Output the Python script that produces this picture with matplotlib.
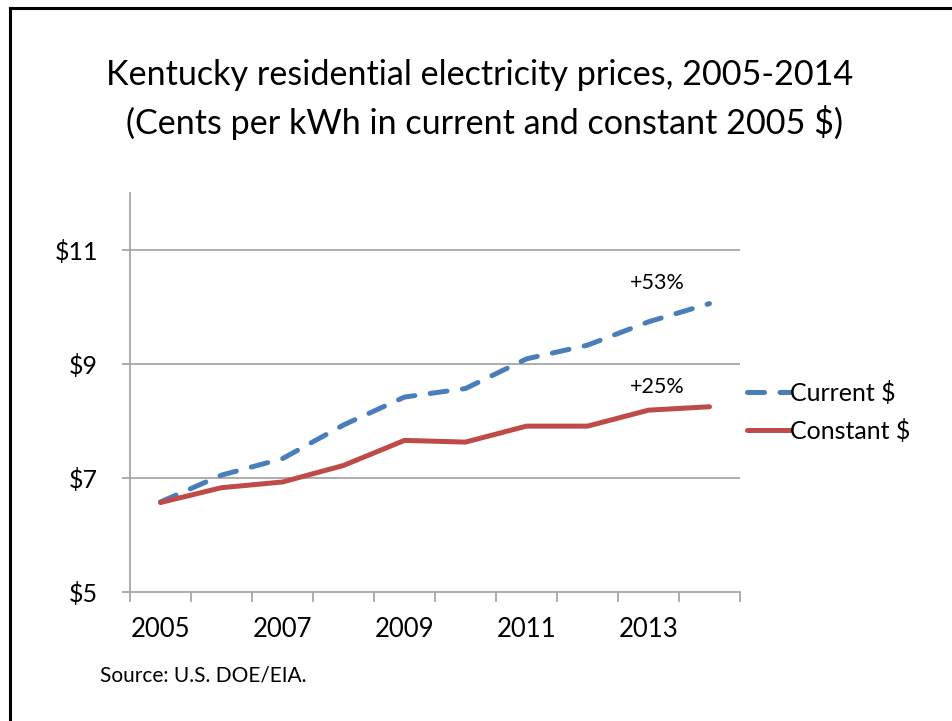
import matplotlib
matplotlib.use("Agg")
import matplotlib.pyplot as plt
from matplotlib.lines import Line2D

years = [2005, 2006, 2007, 2008, 2009, 2010, 2011, 2012, 2013, 2014]
current = [6.58, 7.05, 7.34, 7.93, 8.42, 8.57, 9.09, 9.33, 9.74, 10.06]
constant = [6.57, 6.83, 6.93, 7.22, 7.66, 7.63, 7.91, 7.91, 8.19, 8.25]
ytick_vals = [5, 7, 9, 11]
ytick_labels = ["$5", "$7", "$9", "$11"]
xlabel_years = [2005, 2007, 2009, 2011, 2013]
series_names = ["Current $", "Constant $"]
annotations = ["+53%", "+25%"]

FONT = "Lato"
plt.rcParams['font.family'] = [FONT, 'DejaVu Sans']

W, H = 952, 721
fig = plt.figure(figsize=(W / 100, H / 100), dpi=100)

ax = fig.add_axes([130 / W, (H - 592) / H, 610 / W, 399 / H])
xs = list(range(len(years)))
blue = "#4A7EBB"
red = "#BE4B48"
ax.plot(xs, current, color=blue, lw=3.6, linestyle=(0, (3.4, 3.1)),
        dash_capstyle='round', solid_capstyle='round', label=series_names[0])
ax.plot(xs, constant, color=red, lw=3.6, solid_capstyle='round',
        label=series_names[1])

ax.set_xlim(-0.5, len(years) - 0.5)
ax.set_ylim(5, 12)

grid_c = "#A6A6A6"
for v in ytick_vals[1:]:
    ax.axhline(v, color=grid_c, lw=1.3, zorder=0)

for s in ["top", "right"]:
    ax.spines[s].set_visible(False)
for s in ["left", "bottom"]:
    ax.spines[s].set_color(grid_c)
    ax.spines[s].set_linewidth(1.3)

ax.set_yticks(ytick_vals)
ax.set_yticklabels(ytick_labels)
ax.tick_params(axis='y', length=6, width=1.3, color=grid_c, pad=17,
               labelsize=18)
# tick marks at category boundaries, labels at category centres
ax.set_xticks([i - 0.5 for i in range(len(years) + 1)])
ax.set_xticklabels([])
ax.tick_params(axis='x', which='major', length=7, width=1.3, color=grid_c)
ax.set_xticks([years.index(y) for y in xlabel_years], minor=True)
ax.set_xticklabels([str(y) for y in xlabel_years], minor=True)
ax.tick_params(axis='x', which='minor', length=0, pad=18, labelsize=18.5)

ax.text(8.15, 10.42, annotations[0], ha='center', va='center', fontsize=15.5)
ax.text(8.15, 8.60, annotations[1], ha='center', va='center', fontsize=15.5)

leg = ax.legend(loc='center left', bbox_to_anchor=(747 / W, (H - 412) / H),
                bbox_transform=fig.transFigure, frameon=False,
                handlelength=1.7, handletextpad=0.0, labelspacing=0.55,
                fontsize=18, borderaxespad=0, borderpad=0)

fig.text(480 / W, 1 - 75 / H,
         "Kentucky residential electricity prices, 2005-2014",
         ha='center', va='center', fontsize=24.6)
fig.text(484 / W, 1 - 122 / H,
         "(Cents per kWh in current and constant 2005 $)",
         ha='center', va='center', fontsize=24.6)
fig.text(100 / W, 1 - 675 / H, "Source: U.S. DOE/EIA.", ha='left',
         va='center', fontsize=15)

# frame lines (left and top edges of slide border)
fig.add_artist(Line2D([10 / W, 10 / W], [0, 1 - 8 / H], color='black',
                      lw=2.2, transform=fig.transFigure))
fig.add_artist(Line2D([10 / W, 1], [1 - 8 / H, 1 - 8 / H], color='black',
                      lw=2.2, transform=fig.transFigure))

fig.savefig("out.png", dpi=100)
